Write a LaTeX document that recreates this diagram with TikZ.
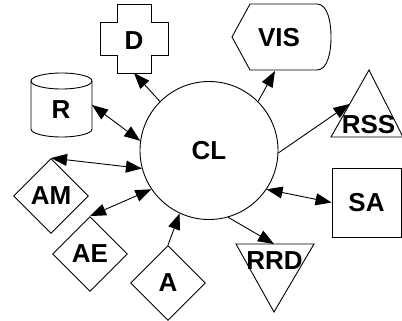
\documentclass[tikz,border=0pt]{standalone}
\usepackage{fontspec}
\setmainfont{Liberation Sans}
\usetikzlibrary{shapes.geometric, arrows.meta}

\begin{document}
\begin{tikzpicture}[x=1pt, y=-1pt,
    lbl/.style={font=\bfseries\fontsize{26}{30}\selectfont, inner sep=0pt},
    box/.style={draw, line width=0.9pt, lbl},
    outline/.style={line width=0.9pt, line join=miter},
    edge/.style={line width=0.9pt, -{Triangle[length=16pt, width=12pt]}},
    both/.style={line width=0.9pt, {Triangle[length=16pt, width=12pt]}-{Triangle[length=16pt, width=12pt]}}
  ]
  \useasboundingbox (0,0) rectangle (402,321);

  % Center node
  \node[box, circle, minimum size=138pt] (cl) at (209,150.5) {CL};

  % Diamonds and square
  \node[box, diamond, minimum size=75pt] (am) at (51,196) {AM};
  \node[box, diamond, minimum size=75pt] (ae) at (90,254) {AE};
  \node[box, diamond, minimum size=75pt] (a) at (168,283) {A};
  \node[box, minimum width=69pt, minimum height=69pt] (sa) at (366.5,202.5) {SA};

  % D (cross)
  \draw[outline] (117,4) -- (151,4) -- (151,22) -- (168,22) -- (168,55) -- (151,55) -- (151,73)
    -- (117,73) -- (117,55) -- (100,55) -- (100,22) -- (117,22) -- cycle;
  \node[lbl] (d) at (134,41) {D};
  \coordinate (din) at (134,73);

  % VIS (display)
  \draw[outline] (232,37) -- (250,4) -- (317,4) .. controls (327,4) and (331,20) .. (331,37)
    .. controls (331,54) and (327,70) .. (317,70) -- (250,70) -- cycle;
  \node[lbl] (vis) at (279,38) {VIS};
  \coordinate (visin) at (275,71);

  % R (cylinder)
  \draw[outline] (61.5,81) ellipse [x radius=30.5, y radius=8];
  \draw[outline] (31,81) -- (31,129) arc [start angle=180, end angle=0, x radius=30.5, y radius=8] -- (92,81);
  \node[lbl] (r) at (61,110) {R};
  \coordinate (rin) at (92,105);

  % RSS and RRD (triangles)
  \draw[outline] (331,137) -- (369,70) -- (403,137) -- cycle;
  \node[lbl] (rss) at (368.5,125) {RSS};
  \coordinate (rssin) at (349.5,104);
  \draw[outline] (236,244) -- (314,244) -- (274,312) -- cycle;
  \node[lbl] (rrd) at (274.5,260.5) {RRD};
  \coordinate (rrdin) at (274,244);

  % Connectors
  \draw[edge] (cl.135.6) -- (din);
  \draw[edge] (cl.45) -- (visin);
  \draw[both] (rin) -- (cl.172.6);
  \draw[edge] (cl.358.4) -- (rssin);
  \draw[both] (am.north) -- (cl.195);
  \draw[both] (ae.north) -- (cl.214);
  \draw[edge] (a.north) -- (cl.245);
  \draw[both] (cl.326) -- (sa.west);
  \draw[edge] (cl.286) -- (rrdin);

\end{tikzpicture}
\end{document}
